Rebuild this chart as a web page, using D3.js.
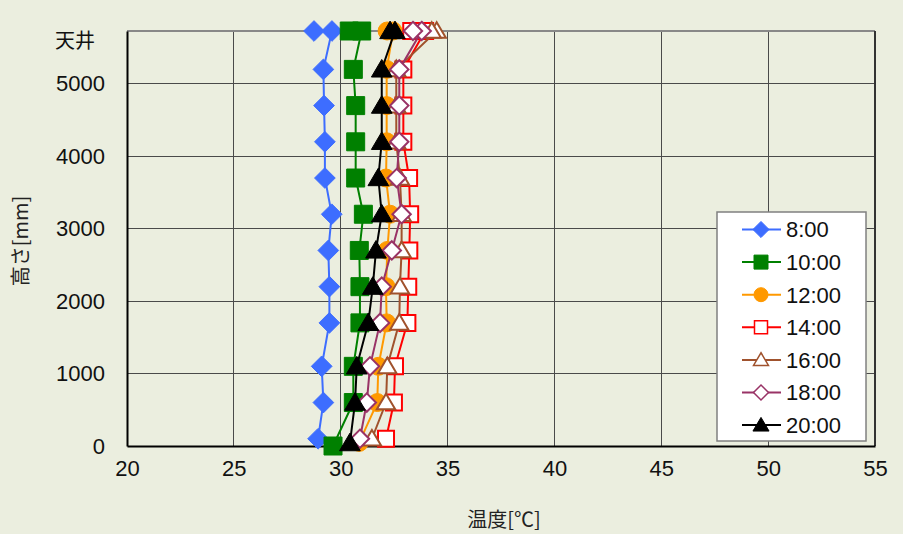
<!DOCTYPE html>
<html><head><meta charset="utf-8">
<script src="https://cdn.jsdelivr.net/npm/d3@7"></script>
<style>
html,body{margin:0;padding:0;background:#ebeedf;}
svg{display:block;}
</style></head>
<body>
<svg id="c" width="903" height="534"></svg>
<script>
// Heights [mm]: bottom sensor, then fixed heights, then two ceiling sensors
const heights = [null, 600, 1100, 1700, 2200, 2700, 3200, 3700, 4200, 4700, 5200, 5730, 5730];
const bottomHeights = [100, 0, 50, 100, 100, 100, 40];
const seriesNames = ["8:00", "10:00", "12:00", "14:00", "16:00", "18:00", "20:00"];
const t0800 = [28.94, 29.19, 29.11, 29.47, 29.47, 29.42, 29.58, 29.26, 29.26, 29.22, 29.19, 29.59, 28.75];
const t1000 = [29.64, 30.59, 30.59, 30.90, 30.90, 30.87, 31.06, 30.70, 30.70, 30.70, 30.59, 30.98, 30.40];
const t1200 = [30.87, 31.71, 31.76, 32.15, 32.12, 32.18, 32.31, 32.12, 32.15, 32.15, 32.15, 32.45, 32.17];
const t1400 = [32.12, 32.49, 32.54, 33.12, 33.16, 33.21, 33.25, 33.20, 32.93, 32.93, 32.93, 33.95, 33.30];
const t1600 = [31.46, 32.12, 32.18, 32.74, 32.77, 32.85, 32.85, 32.77, 32.60, 32.60, 32.60, 34.49, 34.26];
const t1800 = [30.90, 31.22, 31.37, 31.84, 31.92, 32.39, 32.85, 32.62, 32.74, 32.74, 32.74, 33.79, 33.38];
const t2000 = [30.43, 30.67, 30.75, 31.29, 31.50, 31.65, 31.92, 31.76, 31.92, 31.92, 31.92, 32.54, 32.31];
const xTicks = [20, 25, 30, 35, 40, 45, 50, 55];
const yTicks = [0, 1000, 2000, 3000, 4000, 5000];
const ceilingLabel = "天井";
const xTitle = "温度[℃]";
const yTitle = "高さ[mm]";

const styles = [
  {color:"#3d6dff", marker:"diamond", fill:"#3d6dff"},
  {color:"#008000", marker:"square", fill:"#008000"},
  {color:"#ff9900", marker:"circle", fill:"#ff9900"},
  {color:"#ff0000", marker:"square", fill:"#ffffff"},
  {color:"#a0522d", marker:"triangle", fill:"#ffffff"},
  {color:"#993366", marker:"diamond", fill:"#ffffff"},
  {color:"#000000", marker:"triangle", fill:"#000000"}
];
const allTemps = [t0800, t1000, t1200, t1400, t1600, t1800, t2000];

const svg = d3.select("#c");
const x = d3.scaleLinear().domain([20, 55]).range([127, 875]);
const y = d3.scaleLinear().domain([0, 5730]).range([446, 31]);

// grid
const g = svg.append("g");
g.selectAll(".vg").data(xTicks.slice(1, -1)).enter().append("line")
  .attr("x1", d => x(d)).attr("x2", d => x(d)).attr("y1", y(5730)).attr("y2", y(0))
  .attr("stroke", "#4a4a4a").attr("stroke-width", 1).attr("shape-rendering", "crispEdges");
g.selectAll(".hg").data(yTicks.slice(1)).enter().append("line")
  .attr("x1", x(20)).attr("x2", x(55)).attr("y1", d => y(d)).attr("y2", d => y(d))
  .attr("stroke", "#4a4a4a").attr("stroke-width", 1).attr("shape-rendering", "crispEdges");
// borders
g.append("line").attr("x1", x(20)).attr("x2", x(55)).attr("y1", y(5730)).attr("y2", y(5730))
  .attr("stroke", "#888").attr("stroke-width", 1.5).attr("shape-rendering", "crispEdges");
g.append("line").attr("x1", x(55)).attr("x2", x(55)).attr("y1", y(5730)).attr("y2", y(0))
  .attr("stroke", "#333").attr("stroke-width", 1.5).attr("shape-rendering", "crispEdges");

// axes
const xAxis = d3.axisBottom(x).tickValues(xTicks).tickSize(0).tickPadding(14).tickFormat(d3.format("d"));
const yAxis = d3.axisLeft(y).tickValues(yTicks).tickSize(0).tickPadding(22).tickFormat(d3.format("d"));
const xa = svg.append("g").attr("transform", `translate(0,${y(0)})`).call(xAxis);
const ya = svg.append("g").attr("transform", `translate(${x(20)},0)`).call(yAxis);
[xa, ya].forEach(a => {
  a.select(".domain").attr("stroke", "#000").attr("stroke-width", 2);
  a.selectAll("text").attr("font-family", "'Liberation Sans', Arial, sans-serif")
    .attr("font-size", 22).attr("fill", "#111");
});
xa.selectAll("text").attr("dy", "0.71em");

svg.append("text").attr("x", 75).attr("y", 48).attr("text-anchor", "middle")
  .attr("font-family", "'Noto Sans CJK JP', sans-serif").attr("font-size", 20).attr("fill", "#111")
  .text(ceilingLabel);
svg.append("text").attr("x", 504).attr("y", 527).attr("text-anchor", "middle")
  .attr("font-family", "'Noto Sans CJK JP', sans-serif").attr("font-size", 20).attr("fill", "#222")
  .text(xTitle);
svg.append("text").attr("transform", "translate(28,241) rotate(-90)").attr("text-anchor", "middle")
  .attr("font-family", "'Noto Sans CJK JP', sans-serif").attr("font-size", 20).attr("fill", "#222")
  .text(yTitle);

function markerPath(type, s) {
  const p = d3.path();
  if (type === "square") { p.rect(-s, -s, 2*s, 2*s); }
  else if (type === "diamond") { p.moveTo(0, -s*1.15); p.lineTo(s*1.15, 0); p.lineTo(0, s*1.15); p.lineTo(-s*1.15, 0); p.closePath(); }
  else if (type === "triangle") { p.moveTo(0, -s*1.1); p.lineTo(s*1.15, s*0.85); p.lineTo(-s*1.15, s*0.85); p.closePath(); }
  else { p.arc(0, 0, s, 0, 2*Math.PI); }
  return p.toString();
}

const line = d3.line().x(d => x(d.t)).y(d => y(d.h));
allTemps.forEach((temps, i) => {
  const st = styles[i];
  const pts = temps.map((t, j) => ({t, h: j === 0 ? bottomHeights[i] : heights[j]}));
  const sg = svg.append("g");
  sg.append("path").datum(pts).attr("d", line).attr("fill", "none")
    .attr("stroke", st.color).attr("stroke-width", 2);
  const open = st.fill === "#ffffff";
  sg.selectAll("path.m").data(pts).enter().append("path").attr("class", "m")
    .attr("transform", d => `translate(${x(d.t)},${y(d.h)})`)
    .attr("d", markerPath(st.marker, open ? 8 : 9))
    .attr("fill", st.fill).attr("stroke", st.color).attr("stroke-width", open ? 2 : 1);
});

// legend
const lg = svg.append("g");
lg.append("rect").attr("x", 717).attr("y", 212).attr("width", 149).attr("height", 229)
  .attr("fill", "#fff").attr("stroke", "#808080").attr("stroke-width", 1.5);
seriesNames.forEach((name, i) => {
  const st = styles[i];
  const cy = 229.5 + i * 32.6;
  lg.append("line").attr("x1", 742).attr("x2", 781).attr("y1", cy).attr("y2", cy)
    .attr("stroke", st.color).attr("stroke-width", 2);
  const open = st.fill === "#ffffff";
  lg.append("path").attr("transform", `translate(761,${cy})`)
    .attr("d", markerPath(st.marker, open ? 6.5 : 7))
    .attr("fill", st.fill).attr("stroke", st.color).attr("stroke-width", open ? 1.5 : 1);
  lg.append("text").attr("x", 786).attr("y", cy).attr("dy", "0.36em")
    .attr("font-family", "'Liberation Sans', Arial, sans-serif").attr("font-size", 22).attr("fill", "#111")
    .text(name);
});
</script>
</body></html>
